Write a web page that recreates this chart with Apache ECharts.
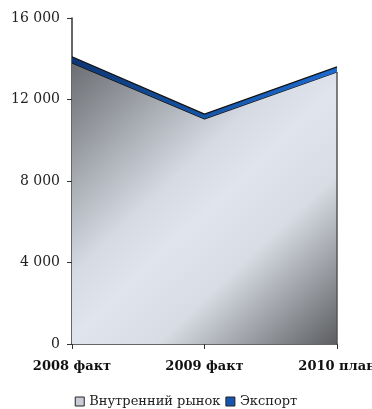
<!DOCTYPE html>
<html>
<head>
<meta charset="utf-8">
<style>
  html, body { margin: 0; padding: 0; background: #ffffff; }
  #chart { width: 372px; height: 409px; }
</style>
<script src="https://cdn.jsdelivr.net/npm/echarts@6/dist/echarts.min.js"></script>
</head>
<body>
<div id="chart"></div>
<script>
// Years on the category axis
const categories = ['2008 факт', '2009 факт', '2010 план'];
// Sales volumes, stacked: domestic market plus export
const domestic = [13800, 11050, 13350];
const exportVals = [300, 230, 250];
// Value axis range
const yMin = 0;
const yMax = 16000;
const yStep = 4000;

const serif = '"DejaVu Serif", "Liberation Serif", serif';

const chart = echarts.init(document.getElementById('chart'), null, { renderer: 'canvas' });

const greyFill = new echarts.graphic.LinearGradient(0, 0, 1, 1, [
  { offset: 0, color: '#6a6e72' },
  { offset: 0.4, color: '#d6dae3' },
  { offset: 0.52, color: '#e0e4ed' },
  { offset: 0.68, color: '#d8dce4' },
  { offset: 1, color: '#5c5e61' }
]);
const blueFill = new echarts.graphic.LinearGradient(0, 0, 1, 0, [
  { offset: 0, color: '#0c3574' },
  { offset: 0.5, color: '#1656a8' },
  { offset: 1, color: '#1d6ad0' }
]);

chart.setOption({
  animation: false,
  grid: { left: 72, right: 35, top: 18, bottom: 65, containLabel: false, outerBoundsMode: 'none' },
  legend: {
    bottom: 1,
    left: 'center',
    padding: [0, 5, 0, 5],
    icon: 'rect',
    itemWidth: 9,
    itemHeight: 9,
    itemGap: 5,
    textStyle: { fontFamily: serif, fontSize: 13, color: '#222' },
    data: [
      { name: 'Внутренний рынок', itemStyle: { color: '#c8ccd4', borderColor: '#222', borderWidth: 1 } },
      { name: 'Экспорт', itemStyle: { color: '#1656b0', borderColor: '#222', borderWidth: 1 } }
    ]
  },
  xAxis: {
    type: 'category',
    data: categories,
    boundaryGap: false,
    axisLine: { lineStyle: { color: '#333', width: 1.5 } },
    axisTick: { show: true, length: 5, lineStyle: { color: '#333' } },
    axisLabel: {
      fontFamily: serif, fontSize: 13, fontWeight: 'bold', color: '#111',
      margin: 16, showMinLabel: true, showMaxLabel: true, interval: 0, hideOverlap: false
    },
    splitLine: { show: false }
  },
  yAxis: {
    type: 'value',
    min: yMin,
    max: yMax,
    interval: yStep,
    axisLine: { show: true, lineStyle: { color: '#333', width: 1.5 } },
    axisTick: { show: true, length: 5, lineStyle: { color: '#333' } },
    axisLabel: {
      fontFamily: serif, fontSize: 14, color: '#222', margin: 12,
      formatter: v => String(v).replace(/\B(?=(\d{3})+(?!\d))/g, ' ')
    },
    splitLine: { show: false }
  },
  series: [
    {
      name: 'Внутренний рынок',
      type: 'line',
      stack: 'total',
      data: domestic,
      symbol: 'none',
      lineStyle: { color: '#111', width: 1.2 },
      itemStyle: { color: '#c8ccd4' },
      areaStyle: { color: greyFill, opacity: 1 },
      markLine: {
        silent: true,
        symbol: 'none',
        label: { show: false },
        lineStyle: { color: '#555', width: 1.5, type: 'solid' },
        data: [[
          { coord: [categories[2], 0] },
          { coord: [categories[2], domestic[2]] }
        ]]
      },
      z: 2
    },
    {
      name: 'Экспорт',
      type: 'line',
      stack: 'total',
      data: exportVals,
      symbol: 'none',
      lineStyle: { color: '#111', width: 1.2 },
      itemStyle: { color: '#1656b0' },
      areaStyle: { color: blueFill, opacity: 1 },
      z: 3
    }
  ]
});
</script>
</body>
</html>
